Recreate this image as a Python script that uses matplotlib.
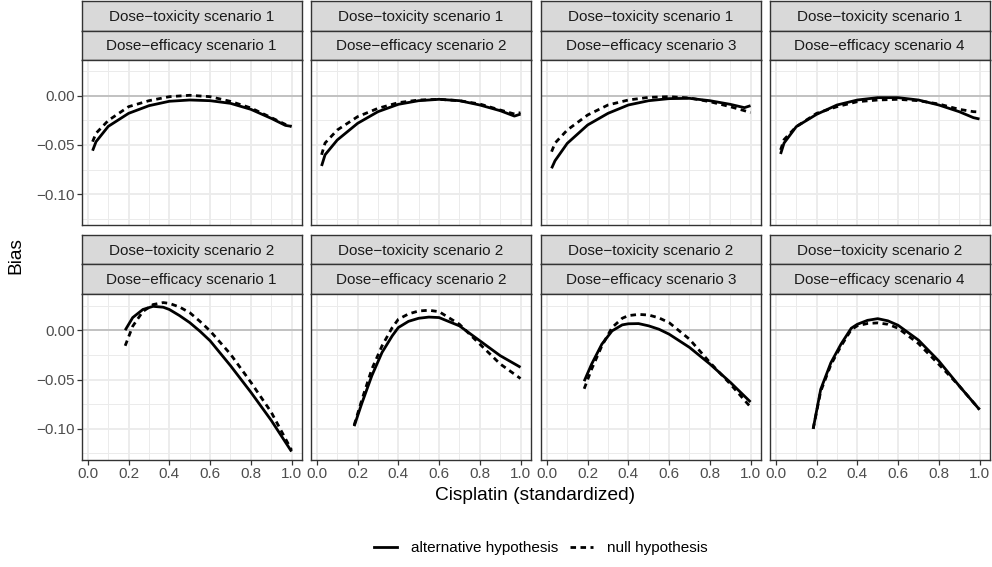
import numpy as np
import matplotlib
matplotlib.use('Agg')
import matplotlib.pyplot as plt
from matplotlib.lines import Line2D

plt.rcParams['font.family'] = ['Liberation Sans', 'DejaVu Sans']

# 数据：偏差曲线
x_top = [0.023, 0.04, 0.1, 0.2, 0.3, 0.4, 0.5, 0.6, 0.7, 0.8, 0.9, 0.97, 1.0]
x_bot = [0.183, 0.22, 0.27, 0.32, 0.37, 0.4, 0.45, 0.5, 0.55, 0.6, 0.7, 0.8, 0.9, 1.0]

tox_labels = ['Dose\u2212toxicity scenario 1', 'Dose\u2212toxicity scenario 2']
eff_labels = ['Dose\u2212efficacy scenario 1', 'Dose\u2212efficacy scenario 2',
              'Dose\u2212efficacy scenario 3', 'Dose\u2212efficacy scenario 4']

# 毒性情景1
t1_alt = [
    [-0.0558, -0.0466, -0.031, -0.0177, -0.0099, -0.0054, -0.0041, -0.0048, -0.0075, -0.0136, -0.0228, -0.030, -0.031],
    [-0.0714, -0.060, -0.0449, -0.0279, -0.016, -0.0085, -0.0048, -0.0034, -0.0048, -0.0092, -0.015, -0.0205, -0.0185],
    [-0.0738, -0.066, -0.0483, -0.0296, -0.0177, -0.0092, -0.0048, -0.0027, -0.0024, -0.0048, -0.0085, -0.0119, -0.0099],
    [-0.0592, -0.048, -0.0313, -0.0187, -0.0092, -0.0041, -0.0017, -0.0017, -0.0041, -0.0092, -0.016, -0.0221, -0.0235],
]
t1_null = [
    [-0.0466, -0.038, -0.025, -0.0109, -0.0048, -0.0007, 0.0007, -0.0007, -0.0055, -0.0122, -0.022, -0.029, -0.031],
    [-0.060, -0.048, -0.0347, -0.0211, -0.0126, -0.0068, -0.0041, -0.0034, -0.0048, -0.0082, -0.0143, -0.0184, -0.017],
    [-0.0568, -0.048, -0.0347, -0.0194, -0.0092, -0.0041, -0.0014, -0.0007, -0.002, -0.0058, -0.0109, -0.015, -0.017],
    [-0.055, -0.0445, -0.0313, -0.0177, -0.0109, -0.0058, -0.0041, -0.0034, -0.0048, -0.0082, -0.0136, -0.016, -0.0163],
]
# 毒性情景2
t2_alt = [
    [0.0, 0.0128, 0.021, 0.0242, 0.0233, 0.021, 0.0148, 0.0077, -0.001, -0.0107, -0.0359, -0.0628, -0.0913, -0.123],
    [-0.0973, -0.0745, -0.046, -0.0225, -0.0057, 0.0027, 0.009, 0.0121, 0.0133, 0.0128, 0.0044, -0.0107, -0.0258, -0.0376],
    [-0.0517, -0.0342, -0.0141, -0.0007, 0.0054, 0.0065, 0.0067, 0.0044, 0.001, -0.004, -0.0174, -0.0342, -0.0527, -0.0728],
    [-0.100, -0.060, -0.033, -0.014, 0.002, 0.006, 0.010, 0.0117, 0.0095, 0.005, -0.010, -0.0312, -0.0564, -0.0805],
]
t2_null = [
    [-0.0158, 0.004, 0.019, 0.026, 0.028, 0.0272, 0.0235, 0.0178, 0.009, -0.0007, -0.0242, -0.0527, -0.083, -0.1215],
    [-0.0963, -0.0711, -0.0393, -0.0158, 0.0027, 0.0111, 0.0165, 0.0195, 0.0202, 0.0188, 0.006, -0.0141, -0.0342, -0.049],
    [-0.0594, -0.0393, -0.0158, 0.0027, 0.0121, 0.0148, 0.016, 0.0154, 0.0125, 0.0077, -0.0091, -0.0326, -0.0544, -0.0779],
    [-0.100, -0.062, -0.035, -0.016, 0.0005, 0.0045, 0.0068, 0.0074, 0.006, 0.002, -0.0135, -0.0346, -0.0564, -0.0805],
]

W, H = 992, 567
fig = plt.figure(figsize=(W / 100, H / 100), dpi=100)

def box(x0, y0, x1, y1):
    return [x0 / W, 1 - y1 / H, (x1 - x0) / W, (y1 - y0) / H]

col_left = [82, 311, 541, 770]
pw = 219.5
rows = [(1, 30.5, 60, 225), (235, 264.5, 294, 460)]
border = '#333333'
lw = 2.0
dash = (0, (2.0, 1.6))
fs = 11

for r, (s0, s1, p0, p1) in enumerate(rows):
    xs = x_top if r == 0 else x_bot
    alt = t1_alt if r == 0 else t2_alt
    nul = t1_null if r == 0 else t2_null
    for c, left in enumerate(col_left):
        # 分面标签
        for (a, b, lab) in [(s0, s1, tox_labels[r]), (s1, p0, eff_labels[c])]:
            sax = fig.add_axes(box(left, a, left + pw, b))
            sax.set_facecolor('#D9D9D9')
            sax.set_xticks([]); sax.set_yticks([])
            for sp in sax.spines.values():
                sp.set_color(border); sp.set_linewidth(1.0)
            sax.text(0.5, 0.47, lab, ha='center', va='center', fontsize=fs,
                     color='#1A1A1A', transform=sax.transAxes)
        ax = fig.add_axes(box(left, p0, left + pw, p1))
        ax.set_xlim(-0.029, 1.049)
        ax.set_ylim(-0.1316, 0.0367)
        ax.set_xticks([0.0, 0.2, 0.4, 0.6, 0.8, 1.0])
        ax.set_xticks([0.1, 0.3, 0.5, 0.7, 0.9], minor=True)
        ax.set_yticks([-0.10, -0.05, 0.00])
        ax.set_yticks([-0.125, -0.075, -0.025, 0.025], minor=True)
        ax.grid(True, which='major', color='#EBEBEB', lw=1.3)
        ax.grid(True, which='minor', color='#EBEBEB', lw=0.7)
        ax.set_axisbelow(True)
        ax.tick_params(which='minor', length=0)
        ax.tick_params(which='major', length=3.4, width=0.9, color=border,
                       labelsize=fs, labelcolor='#4D4D4D', pad=2)
        ax.axhline(0, color='#BEBEBE', lw=1.3, zorder=1)
        ax.plot(xs, alt[c], color='black', lw=lw, solid_capstyle='butt', zorder=3)
        ax.plot(xs, nul[c], color='black', lw=lw, ls=dash, zorder=3)
        for sp in ax.spines.values():
            sp.set_color(border); sp.set_linewidth(1.0)
        if c != 0:
            ax.tick_params(axis='y', left=False, labelleft=False)
        else:
            ax.set_yticklabels(['\u22120.10', '\u22120.05', '0.00'])
        if r == 0:
            ax.tick_params(axis='x', bottom=False, labelbottom=False)
        else:
            ax.set_xticklabels(['0.0', '0.2', '0.4', '0.6', '0.8', '1.0'])

fig.text(16 / W, 1 - 255 / H, 'Bias', rotation=90, ha='center', va='center',
         fontsize=13.75, color='black')
fig.text(535.5 / W, 1 - 495 / H, 'Cisplatin (standardized)', ha='center',
         va='center', fontsize=13.75, color='black')

handles = [Line2D([0], [0], color='black', lw=lw),
           Line2D([0], [0], color='black', lw=lw, ls=dash)]
fig.legend(handles, ['alternative hypothesis', 'null hypothesis'],
           loc='center', bbox_to_anchor=(541 / W, 1 - 548 / H), ncol=2,
           frameon=False, fontsize=fs, handlelength=1.5, handletextpad=0.9,
           columnspacing=0.8)

fig.savefig('out.png', dpi=100)
